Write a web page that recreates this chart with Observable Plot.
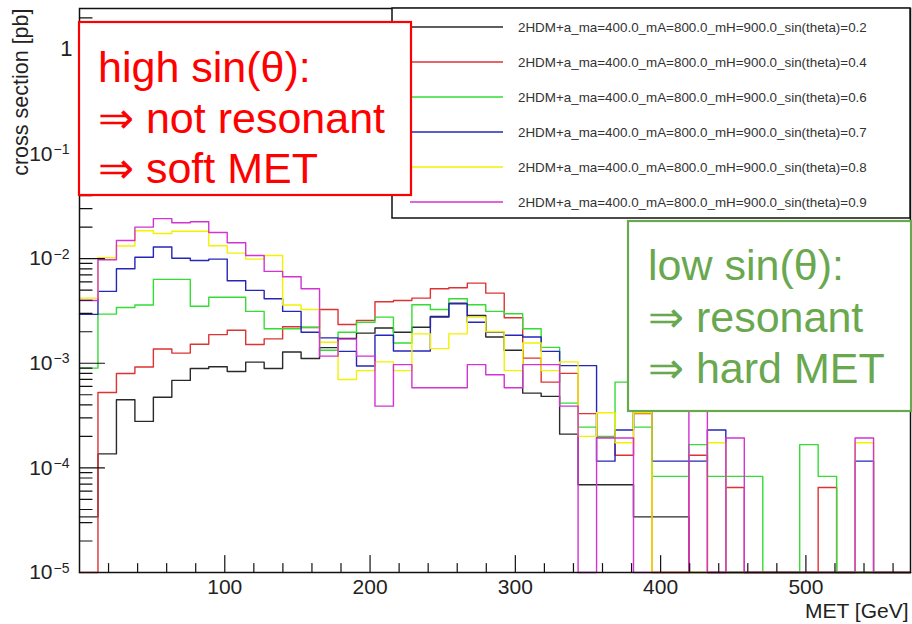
<!DOCTYPE html>
<html><head><meta charset="utf-8">
<script src="https://cdn.jsdelivr.net/npm/d3@7"></script>
<script src="https://cdn.jsdelivr.net/npm/@observablehq/plot@0.6"></script>
<style>
html,body{margin:0;padding:0;background:#fff;}
#chart svg{display:block;}
</style></head><body><div id="chart"></div>
<script>
// ---- data ----
const xMin = 0, xMax = 572, nBins = 45;
const seriesLabels = [
  "2HDM+a_ma=400.0_mA=800.0_mH=900.0_sin(theta)=0.2",
  "2HDM+a_ma=400.0_mA=800.0_mH=900.0_sin(theta)=0.4",
  "2HDM+a_ma=400.0_mA=800.0_mH=900.0_sin(theta)=0.6",
  "2HDM+a_ma=400.0_mA=800.0_mH=900.0_sin(theta)=0.7",
  "2HDM+a_ma=400.0_mA=800.0_mH=900.0_sin(theta)=0.8",
  "2HDM+a_ma=400.0_mA=800.0_mH=900.0_sin(theta)=0.9"
];
const seriesColors = ["#2a2a2a", "#dd3333", "#33dd33", "#2626b8", "#f2f200", "#d233d2"];
// cross section [pb] per MET bin (45 bins)
const sin02 = [3.4e-5,1.36e-4,4.48e-4,2.78e-4,4.74e-4,6.86e-4,8.9e-4,9.25e-4,8.35e-4,1.025e-3,8.9e-4,1.28e-3,1.11e-3,1.41e-3,1.73e-3,1.94e-3,2.17e-3,1.98e-3,2.21e-3,2.8e-3,3.75e-3,2.86e-3,1.78e-3,1.33e-3,5.18e-4,4.82e-4,2.1e-4,6.9e-5,6.9e-5,6.9e-5,3.4e-5,3.4e-5,3.4e-5,0,0,0,0,0,0,0,0,0,0,0,0];
const sin04 = [0,5.26e-4,7.98e-4,9.2e-4,1.37e-3,1.25e-3,1.52e-3,1.88e-3,2.07e-3,1.51e-3,1.71e-3,2.23e-3,2.2e-3,3.27e-3,2.35e-3,2.57e-3,3.87e-3,3.98e-3,4.19e-3,5.15e-3,5.27e-3,5.83e-3,4.68e-3,2.72e-3,1.12e-3,6.6e-4,8.0e-4,3.3e-4,1.97e-4,1.32e-4,3.3e-4,0,0,1.32e-4,0,6.5e-5,0,0,0,0,6.5e-5,0,0,0,0];
const sin06 = [8.98e-4,2.95e-3,3.41e-3,3.6e-3,6.33e-3,6.33e-3,3.51e-3,4.28e-3,4.28e-3,3.13e-3,2.14e-3,2.14e-3,2.21e-3,1.33e-3,1.98e-3,2.47e-3,2.76e-3,1.56e-3,3.62e-3,3.27e-3,4.14e-3,3.62e-3,3.13e-3,2.97e-3,2.14e-3,1.42e-3,4.16e-4,2.45e-4,2.0e-4,6.6e-4,2.45e-4,8.3e-5,8.3e-5,1.67e-4,8.3e-5,8.3e-5,8.3e-5,0,0,1.67e-4,8.3e-5,0,0,0,0];
const sin07 = [2.93e-3,4.86e-3,8.0e-3,1.03e-2,1.29e-2,1.01e-2,9.6e-3,9.9e-3,6.15e-3,4.97e-3,4.14e-3,3.13e-3,1.98e-3,1.75e-3,1.30e-3,9.4e-4,1.85e-3,1.31e-3,1.31e-3,2.76e-3,3.7e-3,2.47e-3,1.98e-3,1.85e-3,1.78e-3,1.30e-3,9.5e-4,9.5e-4,1.16e-4,2.3e-4,4.5e-4,1.16e-4,1.16e-4,1.16e-4,2.3e-4,0,0,0,0,0,0,0,1.16e-4,0,0];
const sin08 = [4.19e-3,1.02e-2,1.32e-2,1.85e-2,1.74e-2,1.83e-2,1.83e-2,1.33e-2,1.13e-2,9.9e-3,1.07e-2,3.6e-3,3.27e-3,1.59e-3,7.0e-4,8.5e-4,1.03e-3,8.5e-4,1.91e-3,1.38e-3,1.91e-3,2.76e-3,2.0e-3,8.5e-4,1.56e-3,8.5e-4,1.03e-3,2.0e-4,3.36e-4,1.74e-4,3.36e-4,0,0,0,1.74e-4,0,0,0,0,0,0,0,1.74e-4,0,0];
const sin09 = [3.98e-3,9.75e-3,1.49e-2,2.0e-2,2.41e-2,2.2e-2,2.25e-2,1.78e-2,1.42e-2,1.07e-2,7.55e-3,6.72e-3,5.15e-3,1.17e-3,1.70e-3,1.17e-3,3.89e-4,9.7e-4,5.83e-4,5.83e-4,5.83e-4,9.7e-4,7.76e-4,5.83e-4,9.7e-4,9.7e-4,3.89e-4,0,1.93e-4,1.93e-4,0,0,0,4.5e-4,0,1.93e-4,0,0,0,0,0,0,1.93e-4,0,0];
const seriesValues = [sin02, sin04, sin06, sin07, sin08, sin09];

const xMajorTicks = [100, 200, 300, 400, 500];
const xMinorTicks = [20,40,60,80,120,140,160,180,220,240,260,280,320,340,360,380,420,440,460,480,520,540,560];
const yDecades = [1e-5, 1e-4, 1e-3, 1e-2, 1e-1, 1];
const yExponents = ["−5", "−4", "−3", "−2", "−1", ""];
const yMin = 1e-5, yMax = 2.46;
const highText = ["high sin(θ):", "⇒ not resonant", "⇒ soft MET"];
const lowText = ["low sin(θ):", "⇒ resonant", "⇒ hard MET"];

// ---- derived ----
const binW = (xMax - xMin) / nBins;
function steps(vals) {
  const pts = vals.map((v, k) => ({x: xMin + k * binW, y: Math.max(v, yMin)}));
  pts.push({x: xMax, y: Math.max(vals[vals.length - 1], yMin)});
  return pts;
}
const yMinor = [];
for (const d of yDecades) for (let m = 2; m <= 9; m++) { const v = d * m; if (v <= yMax) yMinor.push(v); }
const tickShape = {draw(ctx, l) { ctx.moveTo(0, 0); ctx.lineTo(0, -l); }};
const FONT = "'Liberation Sans', Arial, Helvetica, sans-serif";

const marks = [];
seriesValues.forEach((vals, i) => {
  marks.push(Plot.line(steps(vals), {x: "x", y: "y", curve: "step-after", stroke: seriesColors[i], strokeWidth: 1.4}));
});
marks.push(
  Plot.vector(yDecades, {y: d => d, frameAnchor: "left", rotate: 90, length: 25, anchor: "start", shape: tickShape, stroke: "#111", strokeWidth: 1.2}),
  Plot.vector(yMinor, {y: d => d, frameAnchor: "left", rotate: 90, length: 12.5, anchor: "start", shape: tickShape, stroke: "#111", strokeWidth: 1.2}),
  Plot.vector(xMajorTicks, {x: d => d, frameAnchor: "bottom", rotate: 0, length: 17, anchor: "start", shape: tickShape, stroke: "#111", strokeWidth: 1.2}),
  Plot.vector(xMinorTicks, {x: d => d, frameAnchor: "bottom", rotate: 0, length: 9, anchor: "start", shape: tickShape, stroke: "#111", strokeWidth: 1.2}),
  Plot.frame({stroke: "#111", strokeWidth: 1.5}),
  Plot.text(yDecades.slice(0, 5), {y: d => d, text: () => "10", frameAnchor: "left", textAnchor: "end", lineAnchor: "middle", dx: -27, fontSize: 21, fill: "#222"}),
  Plot.text(yDecades.slice(0, 5), {y: d => d, text: (d, i) => yExponents[i], frameAnchor: "left", textAnchor: "start", lineAnchor: "bottom", dx: -26, dy: 0, fontSize: 14, fill: "#222"}),
  Plot.text([1], {y: d => d, text: () => "1", frameAnchor: "left", textAnchor: "end", lineAnchor: "middle", dx: -7, fontSize: 22, fill: "#222"}),
  Plot.text(xMajorTicks, {x: d => d, text: d => String(d), frameAnchor: "bottom", textAnchor: "middle", lineAnchor: "top", dy: 7, fontSize: 21, fill: "#222"}),
  Plot.text(["MET [GeV]"], {frameAnchor: "bottom-right", textAnchor: "end", lineAnchor: "top", dx: -2, dy: 31, fontSize: 21, fill: "#222"}),
  Plot.text(["cross section [pb]"], {frameAnchor: "top-left", rotate: -90, textAnchor: "end", lineAnchor: "middle", dx: -58, dy: 0, fontSize: 21.5, fill: "#222"})
);

const plot = Plot.plot({
  width: 912, height: 624,
  marginLeft: 79, marginRight: 2, marginTop: 8, marginBottom: 52,
  style: {fontFamily: FONT, background: "#fff", overflow: "visible"},
  x: {domain: [xMin, xMax], axis: null},
  y: {type: "log", domain: [yMin, yMax], axis: null},
  marks
});
document.getElementById("chart").appendChild(plot);

// ---- legend & annotation overlays (pixel layout) ----
const svg = d3.select(plot);
const lg = svg.append("g").attr("font-family", FONT).attr("text-anchor", "start");
lg.append("rect").attr("x", 392).attr("y", 8).attr("width", 518).attr("height", 210)
  .attr("fill", "#fff").attr("stroke", "#111").attr("stroke-width", 1.5);
seriesLabels.forEach((lab, i) => {
  const y = 27 + i * 35;
  lg.append("line").attr("x1", 410).attr("x2", 503).attr("y1", y).attr("y2", y)
    .attr("stroke", seriesColors[i]).attr("stroke-width", 1.4);
  lg.append("text").attr("x", 518).attr("y", y).attr("dy", "0.35em")
    .attr("font-size", 13.4).attr("fill", "#333").attr("text-anchor", "start").text(lab);
});
function box(x, y, w, h, color, lines, tx, ty0, lh) {
  const g = svg.append("g").attr("font-family", FONT).attr("text-anchor", "start");
  g.append("rect").attr("x", x).attr("y", y).attr("width", w).attr("height", h)
    .attr("fill", "#fff").attr("stroke", color).attr("stroke-width", 2.2);
  lines.forEach((t, i) => g.append("text").attr("x", tx).attr("y", ty0 + i * lh)
    .attr("font-size", 43).attr("fill", color).attr("text-anchor", "start").text(t));
}
box(79, 22, 332, 173, "#ff0000", highText, 98, 82, 50.5);
box(628, 221, 283, 190, "#6aa84f", lowText, 648, 280, 51.5);
</script></body></html>
